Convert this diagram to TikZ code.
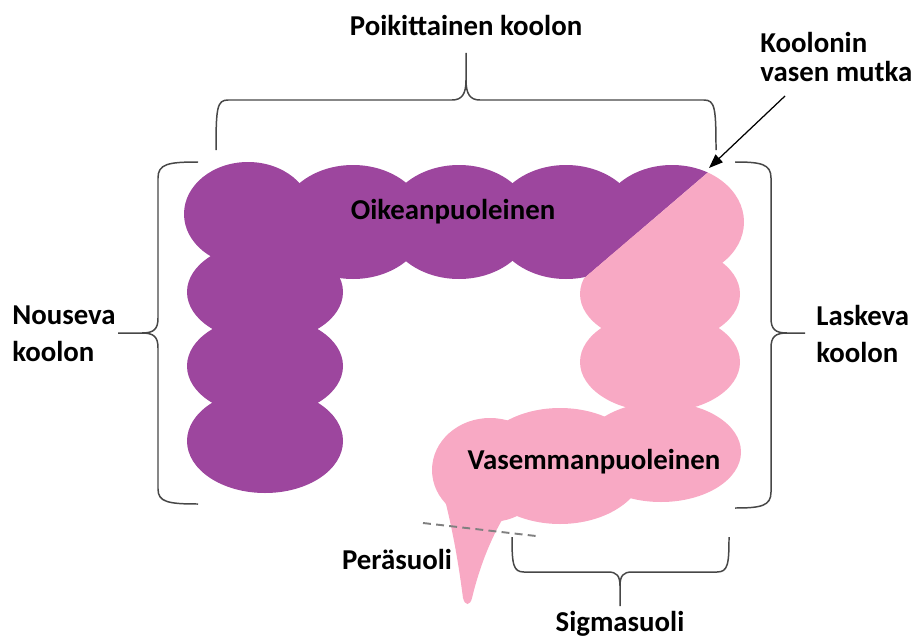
\documentclass[tikz,border=0pt]{standalone}
\usepackage{fontspec}
\setmainfont{Carlito}
\usepackage{tikz}
\usetikzlibrary{arrows.meta}
\definecolor{oikea}{HTML}{9D469E}
\definecolor{vasen}{HTML}{F8A9C4}
\tikzset{
    lbl/.style={font=\bfseries\fontsize{16.4}{21}\selectfont, inner sep=0pt, align=left},
    brk/.style={draw=black!72, line width=0.85pt},
}

\begin{document}
\begin{tikzpicture}[x=0.02cm, y=-0.02cm]
    \useasboundingbox (0,0) rectangle (912,642);

    % right-hand half of the colon (purple), cut off at the bend
    \begin{scope}
      \clip (-10,-50) -- (968,-50) -- (91,700) -- (-10,700) -- cycle;
      \fill [oikea] (248,214) circle [x radius=64, y radius=52];
      \fill [oikea] (353,222) circle [x radius=73, y radius=57];
      \fill [oikea] (459,222) circle [x radius=73, y radius=57];
      \fill [oikea] (566,222) circle [x radius=73, y radius=57];
      \fill [oikea] (672,222) circle [x radius=72, y radius=57];

      \fill [oikea] (265,292) circle [x radius=78, y radius=50];
      \fill [oikea] (265,366) circle [x radius=78, y radius=50];
      \fill [oikea] (265,441) circle [x radius=78, y radius=52];
    \end{scope}

    % left-hand half (pink) with sigmoid and rectum
    \begin{scope}
      \clip (968,-50) -- (1000,-50) -- (1000,700) -- (91,700) -- cycle;
      \fill [vasen] (566,222) circle [x radius=73, y radius=57];
      \fill [vasen] (672,222) circle [x radius=72, y radius=57];

      \fill [vasen] (660,294) circle [x radius=80, y radius=50];
      \fill [vasen] (660,362) circle [x radius=80, y radius=50];
      \fill [vasen] (661,452) circle [x radius=80, y radius=50];

      \fill [vasen] (560,466) circle [x radius=85, y radius=58];
      \fill [vasen] (490,470) circle [x radius=58, y radius=52];

      \fill [vasen] (445,500) .. controls (455,540) and (460,575) .. (463,598)
        .. controls (465,606) and (470,606) .. (472,598)
        .. controls (480,565) and (492,535) .. (508,510) -- cycle;
    \end{scope}

    \node [lbl] (oik) at (453,212) {Oikeanpuoleinen};
    \node [lbl] (vas) at (594,462) {Vasemmanpuoleinen};

    % brace over the transverse colon
    \draw [brk] (216,150) .. controls (216,108) and (217,100) .. (228,100) -- (452,100)
      .. controls (462,100) and (466,94) .. (466,80) -- (466,53)
      (466,80) .. controls (466,94) and (470,100) .. (480,100) -- (704,100)
      .. controls (715,100) and (716,108) .. (716,150);
    \node [lbl] (poik) at (466,25) {Poikittainen koolon};

    % brace left of the ascending colon
    \draw [brk] (198,162) .. controls (168,162) and (158,164) .. (158,178) -- (158,318)
      .. controls (158,329) and (154,333) .. (142,333) -- (118,333)
      (142,333) .. controls (154,333) and (158,337) .. (158,348) -- (158,489)
      .. controls (158,502) and (168,504) .. (198,504);
    \node [lbl, anchor=west] (nous) at (12,334) {Nouseva\\koolon};

    % brace right of the descending colon
    \draw [brk] (735,162) .. controls (761,162) and (771,164) .. (771,178) -- (771,318)
      .. controls (771,329) and (775,333) .. (787,333) -- (805,333)
      (787,333) .. controls (775,333) and (771,337) .. (771,348) -- (771,492)
      .. controls (771,506) and (761,508) .. (735,508);
    \node [lbl, anchor=west] (lask) at (816,334) {Laskeva\\koolon};

    % brace under the sigmoid
    \draw [brk] (512,537) .. controls (512,564) and (513,572) .. (524,572) -- (608,572)
      .. controls (617,572) and (620,576) .. (620,586) -- (620,606)
      (620,586) .. controls (620,576) and (623,572) .. (632,572) -- (717,572)
      .. controls (728,572) and (729,564) .. (729,537);
    \node [lbl] (sigma) at (620,624) {Sigmasuoli};

    % rectum boundary
    \coordinate (raja1) at (423,523);
    \coordinate (raja2) at (536,536);
    \draw [black!50, line width=1.1pt, dash pattern=on 4.5pt off 3pt] (raja1) -- (raja2);
    \node [lbl] (pera) at (397,559) {Peräsuoli};

    % splenic flexure
    \node [lbl, anchor=west, font=\bfseries\fontsize{16.4}{17}\selectfont] (mutka) at (760,57) {Koolonin\\vasen mutka};
    \coordinate (nuoli) at (785,96);
    \coordinate (taive) at (709,168);
    \draw [-{Triangle[length=8pt, width=6pt]}, line width=0.7pt] (nuoli) -- (taive);
\end{tikzpicture}
\end{document}
